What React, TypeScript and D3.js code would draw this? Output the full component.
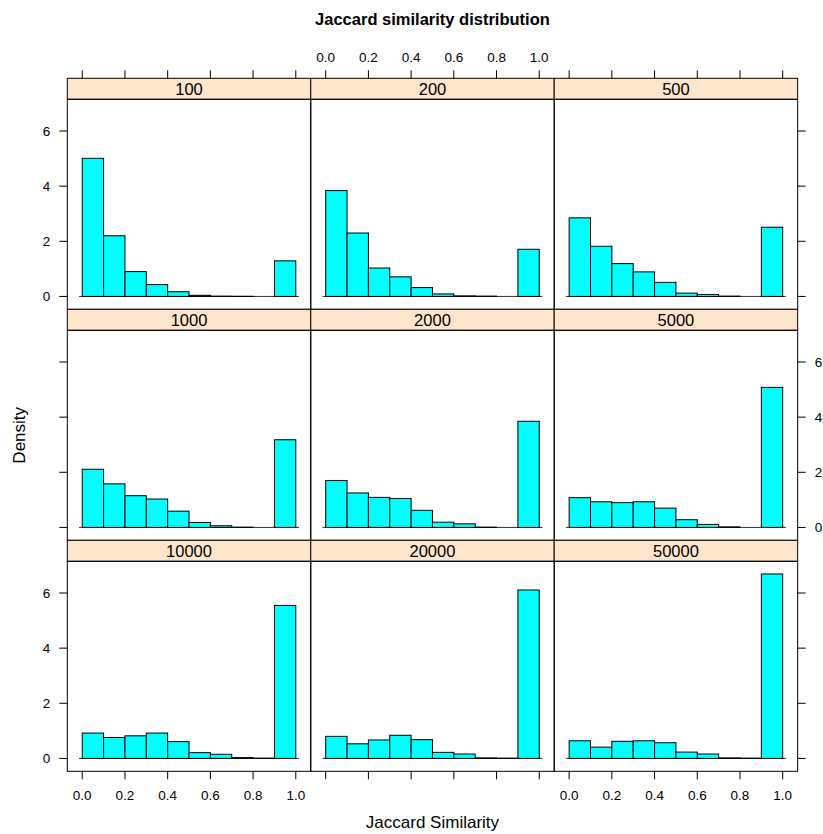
import React from "react";
import * as d3 from "d3";

// bins of width 0.1 from 0 to 1
const binStarts = [0, 0.1, 0.2, 0.3, 0.4, 0.5, 0.6, 0.7, 0.8, 0.9];
const panelLabels = ["100", "200", "500", "1000", "2000", "5000", "10000", "20000", "50000"];

const d100 = [5.01, 2.2, 0.9, 0.43, 0.17, 0.04, 0.01, 0.005, 0, 1.29];
const d200 = [3.84, 2.3, 1.03, 0.71, 0.32, 0.09, 0.02, 0.01, 0, 1.71];
const d500 = [2.85, 1.82, 1.19, 0.89, 0.51, 0.12, 0.07, 0.01, 0, 2.51];
const d1000 = [2.11, 1.58, 1.15, 1.03, 0.59, 0.18, 0.06, 0.01, 0, 3.18];
const d2000 = [1.7, 1.25, 1.09, 1.05, 0.62, 0.19, 0.13, 0.01, 0, 3.85];
const d5000 = [1.08, 0.93, 0.9, 0.93, 0.7, 0.28, 0.11, 0.02, 0, 5.08];
const d10000 = [0.92, 0.76, 0.82, 0.92, 0.61, 0.21, 0.15, 0.03, 0.01, 5.55];
const d20000 = [0.8, 0.53, 0.67, 0.84, 0.68, 0.22, 0.16, 0.02, 0.01, 6.11];
const d50000 = [0.64, 0.41, 0.62, 0.64, 0.57, 0.23, 0.16, 0.02, 0.01, 6.69];
const panelData = [d100, d200, d500, d1000, d2000, d5000, d10000, d20000, d50000];

const xTicks = [0, 0.2, 0.4, 0.6, 0.8, 1.0];
const yTicks = [0, 2, 4, 6];

const FONT = "'Liberation Sans', Arial, Helvetica, sans-serif";

export default function App() {
  const W = 823;
  const H = 834;
  const left = 67.3;
  const top = 78.3;
  const panelW = 243.45;
  const stripH = 21;
  const plotH = 210;
  const rowH = stripH + plotH;
  const tick = 8;

  const x = d3.scaleLinear().domain([-0.07, 1.07]).range([0, panelW]);
  const y = d3.scaleLinear().domain([-0.467, 7.15]).range([plotH, 0]);
  const binW = 0.1;

  const panels = panelLabels.map((label, i) => {
    const col = i % 3;
    const row = Math.floor(i / 3);
    const px = left + col * panelW;
    const py = top + row * rowH;
    const data = panelData[i];
    return (
      <g key={label}>
        <rect x={px} y={py} width={panelW} height={stripH} fill="#FFE5CC" stroke="#000" strokeWidth={1} />
        <text x={px + panelW / 2} y={py + stripH / 2 + 6} textAnchor="middle" fontSize={16.5} fontFamily={FONT} fill="#000">
          {label}
        </text>
        <g transform={`translate(${px},${py + stripH})`}>
          <line x1={x(-0.015)} x2={x(1.015)} y1={y(0)} y2={y(0)} stroke="#333" strokeWidth={1} />
          {data.map((v, j) => (
            <rect
              key={j}
              x={x(binStarts[j])}
              y={y(v)}
              width={x(binStarts[j] + binW) - x(binStarts[j])}
              height={y(0) - y(v)}
              fill="#00FFFF"
              stroke="#000"
              strokeWidth={1}
            />
          ))}
          <rect x={0} y={0} width={panelW} height={plotH} fill="none" stroke="#000" strokeWidth={1} />
        </g>
      </g>
    );
  });

  // axes
  const axes: React.ReactNode[] = [];
  for (let col = 0; col < 3; col++) {
    const px = left + col * panelW;
    const topLabeled = col === 1;
    const bottomY = top + 3 * rowH;
    xTicks.forEach((t) => {
      const tx = px + x(t);
      axes.push(<line key={`tt${col}${t}`} x1={tx} x2={tx} y1={top - tick} y2={top} stroke="#000" />);
      axes.push(<line key={`tb${col}${t}`} x1={tx} x2={tx} y1={bottomY} y2={bottomY + tick} stroke="#000" />);
      if (topLabeled) {
        axes.push(
          <text key={`lt${col}${t}`} x={tx} y={62} textAnchor="middle" fontSize={13.5} fontFamily={FONT}>
            {t.toFixed(1)}
          </text>
        );
      } else {
        axes.push(
          <text key={`lb${col}${t}`} x={tx} y={800} textAnchor="middle" fontSize={13.5} fontFamily={FONT}>
            {t.toFixed(1)}
          </text>
        );
      }
    });
  }
  for (let row = 0; row < 3; row++) {
    const py = top + row * rowH + stripH;
    const rightLabeled = row === 1;
    const rightX = left + 3 * panelW;
    yTicks.forEach((t) => {
      const ty = py + y(t);
      axes.push(<line key={`yl${row}${t}`} x1={left - tick} x2={left} y1={ty} y2={ty} stroke="#000" />);
      axes.push(<line key={`yr${row}${t}`} x1={rightX} x2={rightX + tick} y1={ty} y2={ty} stroke="#000" />);
      if (rightLabeled) {
        axes.push(
          <text key={`ylr${row}${t}`} x={rightX + 17} y={ty + 5} textAnchor="start" fontSize={13.5} fontFamily={FONT}>
            {t}
          </text>
        );
      } else {
        axes.push(
          <text key={`yll${row}${t}`} x={left - 17} y={ty + 5} textAnchor="end" fontSize={13.5} fontFamily={FONT}>
            {t}
          </text>
        );
      }
    });
  }

  return (
    <svg width={W} height={H} style={{ position: "absolute", left: 0, top: 0, background: "#fff" }}>
      <rect width={W} height={H} fill="#fff" />
      <text x={left + 1.5 * panelW} y={25} textAnchor="middle" fontSize={16.5} fontWeight="bold" fontFamily={FONT}>
        Jaccard similarity distribution
      </text>
      {panels}
      {axes}
      <text x={left + 1.5 * panelW} y={828} textAnchor="middle" fontSize={17} fontFamily={FONT}>
        Jaccard Similarity
      </text>
      <text
        transform={`translate(25,${top + 1.5 * rowH + stripH / 2}) rotate(-90)`}
        textAnchor="middle"
        fontSize={17}
        fontFamily={FONT}
      >
        Density
      </text>
    </svg>
  );
}
